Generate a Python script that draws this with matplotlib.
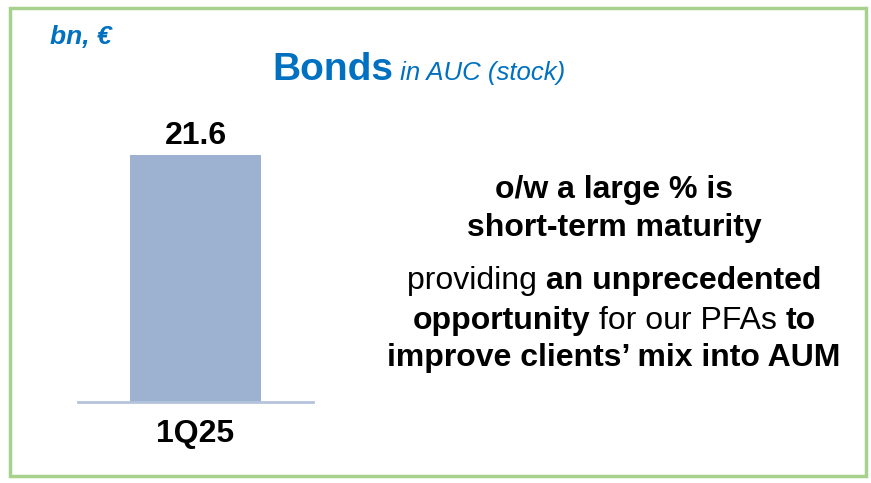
import matplotlib
matplotlib.use('Agg')
import matplotlib.pyplot as plt
from matplotlib.patches import Rectangle

plt.rcParams['font.family'] = ['Liberation Sans', 'DejaVu Sans']

categories = ['1Q25']
values = [21.6]
value_labels = ['21.6']

unit_text = 'bn, €'
title_main = 'Bonds'
title_sub = ' in AUC (stock)'

# right side message, list of lines made of (text, bold) pieces
message = [
    [('o/w a large % is', True)],
    [('short-term maturity', True)],
    [('providing ', False), ('an unprecedented', True)],
    [('opportunity', True), (' for our PFAs ', False), ('to', True)],
    [('improve clients\u2019 mix into AUM', True)],
]
message_y = [187, 225, 278, 318, 355]

blue = '#0070C0'
bar_color = '#9DB1D1'
base_color = '#B4C3DC'
frame_color = '#A9D18E'

W, H = 871, 483
fig = plt.figure(figsize=(W / 100, H / 100), dpi=100)

# green frame
fig.patches.append(Rectangle((10 / W, 1 - 476 / H), 856 / W, 468 / H,
                             transform=fig.transFigure, fill=False,
                             edgecolor=frame_color, linewidth=2.5))

# bar axes
ax_left, ax_right, ax_bottom, bar_top = 78, 313, 402, 155
ymax = values[0] * 1.25
ax_top = ax_bottom - (ax_bottom - bar_top) * ymax / values[0]
ax = fig.add_axes([ax_left / W, 1 - ax_bottom / H, (ax_right - ax_left) / W,
                   (ax_bottom - ax_top) / H])
x = list(range(len(categories)))
ax.bar(x, values, width=0.557, color=bar_color)
ax.set_xlim(-0.5, 0.5)
ax.set_ylim(0, ymax)
for xi, v, lab in zip(x, values, value_labels):
    ax.annotate(lab, (xi, v), xytext=(0, 3), textcoords='offset points',
                ha='center', va='bottom', fontsize=23, fontweight='bold')
for s in ['top', 'left', 'right']:
    ax.spines[s].set_visible(False)
ax.spines['bottom'].set_color(base_color)
ax.spines['bottom'].set_linewidth(2)
ax.set_yticks([])
ax.set_xticks(x)
ax.set_xticklabels(categories, fontsize=23, fontweight='bold')
ax.tick_params(axis='x', length=0, pad=12)

# header texts
fig.text(50 / W, 1 - 37 / H, unit_text, color=blue, fontsize=19,
         fontweight='bold', style='italic', va='center', ha='left')

renderer = fig.canvas.get_renderer()


def centered_line(pieces, cx, cy, size, color='black', styles=None):
    objs = []
    for i, (txt, bold) in enumerate(pieces):
        st = styles[i] if styles else 'normal'
        sz = size[i] if isinstance(size, list) else size
        t = fig.text(0, 1 - cy / H, txt, fontsize=sz,
                     fontweight='bold' if bold else 'normal', style=st,
                     color=color[i] if isinstance(color, list) else color,
                     va='baseline', ha='left')
        objs.append(t)
    widths = [t.get_window_extent(renderer).width for t in objs]
    xpos = cx - sum(widths) / 2
    for t, w in zip(objs, widths):
        t.set_x(xpos / W)
        xpos += w


centered_line([(title_main, True), (title_sub, False)], 419, 80,
              [28, 18.5], color=blue, styles=['normal', 'italic'])

for pieces, y in zip(message, message_y):
    centered_line(pieces, 614, y + 11, 23)

fig.savefig('out.png', dpi=100)
